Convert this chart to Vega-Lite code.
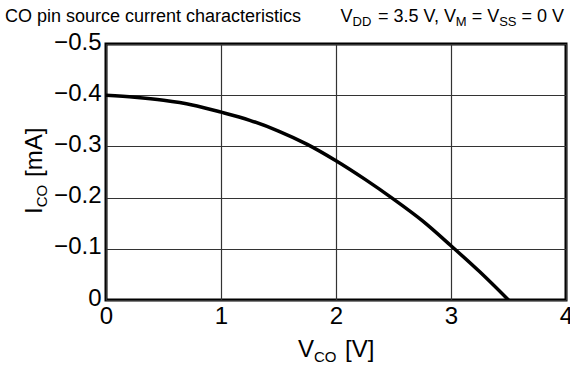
{
  "$schema": "https://vega.github.io/schema/vega-lite/v6.json",
  "width": 460,
  "height": 256,
  "autosize": {"type": "none"},
  "padding": {"left": 106, "top": 44, "right": 4, "bottom": 67},
  "background": "white",
  "config": {
    "view": {"stroke": "#000", "strokeWidth": 3},
    "font": "Liberation Sans",
    "text": {"font": "Liberation Sans", "color": "#000"},
    "axis": {
      "labelFont": "Liberation Sans",
      "labelFontSize": 24,
      "labelColor": "#000",
      "ticks": false,
      "domain": false,
      "grid": true,
      "gridColor": "#333",
      "gridWidth": 1.2,
      "title": null
    }
  },
  "datasets": {
    "curve": [
      {"v": 0.0, "i": -0.400},
      {"v": 0.25, "i": -0.396},
      {"v": 0.5, "i": -0.390},
      {"v": 0.75, "i": -0.381},
      {"v": 1.0, "i": -0.367},
      {"v": 1.25, "i": -0.351},
      {"v": 1.5, "i": -0.330},
      {"v": 1.75, "i": -0.304},
      {"v": 2.0, "i": -0.272},
      {"v": 2.25, "i": -0.236},
      {"v": 2.5, "i": -0.197},
      {"v": 2.75, "i": -0.155},
      {"v": 3.0, "i": -0.106},
      {"v": 3.25, "i": -0.055},
      {"v": 3.5, "i": 0.0}
    ],
    "one": [{"k": 1}]
  },
  "layer": [
    {
      "data": {"name": "curve"},
      "mark": {"type": "line", "color": "#000", "strokeWidth": 3.5, "interpolate": "monotone", "clip": true},
      "encoding": {
        "x": {"field": "v", "type": "quantitative", "scale": {"domain": [0, 4], "nice": false},
              "axis": {"values": [0, 1, 2, 3, 4], "format": ".0f", "labelPadding": 4, "labelFlush": false}},
        "y": {"field": "i", "type": "quantitative", "scale": {"domain": [-0.5, 0], "reverse": true, "nice": false, "zero": false},
              "axis": {"values": [-0.5, -0.4, -0.3, -0.2, -0.1, 0], "labelPadding": 5, "labelOffset": -2,
                       "labelExpr": "datum.value == 0 ? '0' : format(datum.value, '.1f')"}}
      }
    },
    {
      "data": {"name": "one"},
      "layer": [
        {
          "mark": {"type": "text", "align": "left", "baseline": "alphabetic", "fontSize": 18, "dx": -101, "dy": -22, "text": "CO pin source current characteristics"},
          "encoding": {"x": {"datum": 0}, "y": {"datum": -0.5}}
        },
        {
          "mark": {"type": "text", "align": "right", "baseline": "alphabetic", "fontSize": 18, "dx": -2, "dy": -22, "text": "= 0 V"},
          "encoding": {"x": {"datum": 4}, "y": {"datum": -0.5}}
        },
        {
          "mark": {"type": "text", "align": "right", "baseline": "alphabetic", "fontSize": 13, "dx": -49.5, "dy": -18, "text": "SS"},
          "encoding": {"x": {"datum": 4}, "y": {"datum": -0.5}}
        },
        {
          "mark": {"type": "text", "align": "right", "baseline": "alphabetic", "fontSize": 18, "dx": -66.8, "dy": -22, "text": "= V"},
          "encoding": {"x": {"datum": 4}, "y": {"datum": -0.5}}
        },
        {
          "mark": {"type": "text", "align": "right", "baseline": "alphabetic", "fontSize": 13, "dx": -99.3, "dy": -18, "text": "M"},
          "encoding": {"x": {"datum": 4}, "y": {"datum": -0.5}}
        },
        {
          "mark": {"type": "text", "align": "right", "baseline": "alphabetic", "fontSize": 18, "dx": -110.1, "dy": -22, "text": "= 3.5 V, V"},
          "encoding": {"x": {"datum": 4}, "y": {"datum": -0.5}}
        },
        {
          "mark": {"type": "text", "align": "right", "baseline": "alphabetic", "fontSize": 13, "dx": -194.7, "dy": -18, "text": "DD"},
          "encoding": {"x": {"datum": 4}, "y": {"datum": -0.5}}
        },
        {
          "mark": {"type": "text", "align": "right", "baseline": "alphabetic", "fontSize": 18, "dx": -213.5, "dy": -22, "text": "V"},
          "encoding": {"x": {"datum": 4}, "y": {"datum": -0.5}}
        },
        {
          "mark": {"type": "text", "align": "left", "baseline": "alphabetic", "fontSize": 24, "dx": -38, "dy": 57, "text": "V"},
          "encoding": {"x": {"datum": 2}, "y": {"datum": 0}}
        },
        {
          "mark": {"type": "text", "align": "left", "baseline": "alphabetic", "fontSize": 15, "dx": -22, "dy": 62, "text": "CO"},
          "encoding": {"x": {"datum": 2}, "y": {"datum": 0}}
        },
        {
          "mark": {"type": "text", "align": "left", "baseline": "alphabetic", "fontSize": 24, "dx": 9, "dy": 57, "text": "[V]"},
          "encoding": {"x": {"datum": 2}, "y": {"datum": 0}}
        },
        {
          "mark": {"type": "text", "align": "left", "baseline": "alphabetic", "angle": 270, "fontSize": 24, "dx": -42, "dy": -64, "text": "I"},
          "encoding": {"x": {"datum": 0}, "y": {"datum": -0.25}}
        },
        {
          "mark": {"type": "text", "align": "left", "baseline": "alphabetic", "angle": 270, "fontSize": 15, "dx": -35.3, "dy": -59, "text": "CO"},
          "encoding": {"x": {"datum": 0}, "y": {"datum": -0.25}}
        },
        {
          "mark": {"type": "text", "align": "left", "baseline": "alphabetic", "angle": 270, "fontSize": 24, "dx": -5, "dy": -64, "text": "[mA]"},
          "encoding": {"x": {"datum": 0}, "y": {"datum": -0.25}}
        }
      ]
    }
  ]
}
